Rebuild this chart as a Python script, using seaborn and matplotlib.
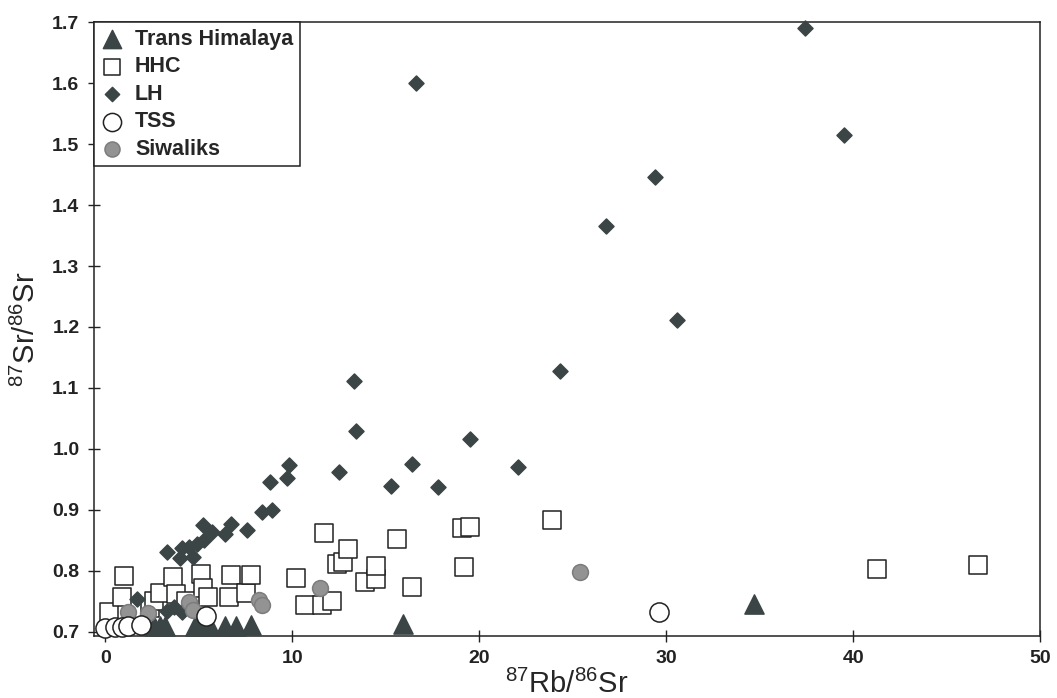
import matplotlib
matplotlib.use("Agg")
import matplotlib.pyplot as plt
import seaborn as sns
import pandas as pd

# ---- data (87Rb/86Sr, 87Sr/86Sr) ----
th_x = [2.6, 2.9, 3.2, 4.8, 5.1, 5.6, 6.4, 7.0, 7.8, 15.9, 34.7]
th_y = [0.709, 0.709, 0.710, 0.709, 0.709, 0.709, 0.710, 0.710, 0.711, 0.713, 0.745]

hhc_x = [0.2, 0.9, 1.0, 2.4, 2.6, 2.9, 3.6, 3.8, 4.3, 5.1, 5.2, 5.5, 6.6, 6.7, 7.5, 7.8,
         10.2, 10.7, 11.6, 12.1, 11.7, 12.4, 12.7, 13.0, 13.9, 14.5, 14.5, 15.6, 16.4,
         19.1, 19.5, 19.2, 23.9, 41.3, 46.7]
hhc_y = [0.733, 0.757, 0.792, 0.739, 0.750, 0.764, 0.789, 0.761, 0.750, 0.795, 0.772, 0.756,
         0.756, 0.793, 0.764, 0.793, 0.788, 0.744, 0.744, 0.751, 0.862, 0.811, 0.814, 0.835,
         0.781, 0.786, 0.808, 0.852, 0.774, 0.870, 0.872, 0.806, 0.884, 0.802, 0.810]

lh_x = [1.7, 3.3, 3.7, 4.1, 3.3, 4.0, 4.1, 4.7, 4.5, 4.9, 5.3, 5.2, 5.7, 6.4, 6.7, 7.6,
        8.4, 8.9, 8.8, 9.7, 9.8, 12.5, 13.3, 13.4, 15.3, 16.4, 16.6, 17.8, 19.5, 22.1,
        24.3, 26.8, 29.4, 30.6, 37.4, 39.5]
lh_y = [0.754, 0.734, 0.741, 0.733, 0.831, 0.820, 0.838, 0.823, 0.839, 0.844, 0.851, 0.875,
        0.864, 0.861, 0.877, 0.867, 0.897, 0.900, 0.945, 0.952, 0.973, 0.962, 1.111, 1.029,
        0.939, 0.975, 1.600, 0.938, 1.016, 0.970, 1.128, 1.365, 1.446, 1.212, 1.690, 1.515]

tss_x = [0.0, 0.5, 0.9, 1.2, 1.9, 5.4, 29.6]
tss_y = [0.706, 0.707, 0.708, 0.709, 0.711, 0.725, 0.732]

siw_x = [1.2, 2.3, 4.5, 4.7, 8.2, 8.4, 11.5, 25.4]
siw_y = [0.733, 0.731, 0.748, 0.736, 0.752, 0.744, 0.772, 0.798]

dark = "#3b4545"

groups = [
    # label, x, y, marker, size, face, edge, zorder
    ("HHC", hhc_x, hhc_y, "s", 160, "white", "#222222", 2),
    ("Trans Himalaya", th_x, th_y, "^", 190, dark, dark, 3),
    ("LH", lh_x, lh_y, "D", 58, dark, dark, 4),
    ("Siwaliks", siw_x, siw_y, "o", 130, "#939393", "#7c7c7c", 5),
    ("TSS", tss_x, tss_y, "o", 190, "white", "#222222", 6),
]

sns.set_style("ticks")
plt.rcParams["font.family"] = ["Liberation Sans", "DejaVu Sans"]
plt.rcParams["mathtext.default"] = "regular"

fig = plt.figure(figsize=(10.57, 6.98), dpi=100)
ax = fig.add_axes([0.089, 0.089, 0.895, 0.879])

for label, xs, ys, mk, sz, fc, ec, zo in groups:
    df = pd.DataFrame({"x": xs, "y": ys})
    sns.scatterplot(data=df, x="x", y="y", ax=ax, marker=mk, s=sz, color=fc,
                    edgecolor=ec, linewidth=1.1, label=label, zorder=zo, clip_on=False)

ax.set_xlim(-0.6, 50)
ax.set_ylim(0.693, 1.7)
ax.set_xticks([0, 10, 20, 30, 40, 50])
ax.set_yticks([0.7, 0.8, 0.9, 1.0, 1.1, 1.2, 1.3, 1.4, 1.5, 1.6, 1.7])
ax.set_yticklabels(["0.7", "0.8", "0.9", "1.0", "1.1", "1.2", "1.3", "1.4", "1.5", "1.6", "1.7"])
ax.tick_params(direction="inout", length=9, width=1, colors="#222222",
               labelsize=14, pad=6)
for lab in ax.get_xticklabels() + ax.get_yticklabels():
    lab.set_fontweight("bold")
for sp in ax.spines.values():
    sp.set_color("#222222")
    sp.set_linewidth(1.1)

ax.set_xlabel(r"$^{87}$Rb/$^{86}$Sr", fontsize=21, labelpad=2)
ax.set_ylabel(r"$^{87}$Sr/$^{86}$Sr", fontsize=21, labelpad=8)

# legend in the reference order
handles, labels = ax.get_legend_handles_labels()
order = ["Trans Himalaya", "HHC", "LH", "TSS", "Siwaliks"]
hmap = dict(zip(labels, handles))
leg = ax.legend([hmap[k] for k in order], order, loc="upper left",
                bbox_to_anchor=(0, 1), borderaxespad=0, frameon=True,
                fancybox=False, edgecolor="#222222", framealpha=1,
                prop={"weight": "bold", "size": 15.5}, labelspacing=0.3,
                handletextpad=0.5, handlelength=1.1, borderpad=0.3,
                markerscale=0.95)
leg.get_frame().set_linewidth(1.1)
leg.set_zorder(10)

fig.savefig("out.png", dpi=100)
